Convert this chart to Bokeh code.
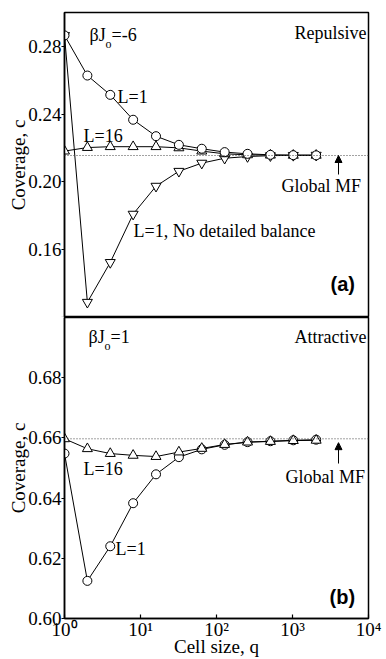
import math
from bokeh.plotting import figure
from bokeh.layouts import column
from bokeh.models import FixedTicker, PrintfTickFormatter, Span, Arrow, NormalHead, Label
from bokeh.embed import file_html
from bokeh.resources import INLINE

# ---- data ----
q = [1, 2, 4, 8, 16, 32, 64, 128, 256, 512, 1024, 2048]

# (a) Repulsive, beta*J0 = -6
a_L1 = [0.2865, 0.2628, 0.2514, 0.2367, 0.2270, 0.2219, 0.2196, 0.2176, 0.2166, 0.2160, 0.2158, 0.2157]
a_L16 = [0.2182, 0.2203, 0.2208, 0.2208, 0.2208, 0.2201, 0.2182, 0.2166, 0.2160, 0.2158, 0.2157, 0.2157]
a_noDB = [0.2865, 0.1290, 0.1525, 0.1810, 0.1975, 0.2063, 0.2111, 0.2140, 0.2150, 0.2155, 0.2157, 0.2158]
a_global = 0.2156

# (b) Attractive, beta*J0 = 1
b_L1 = [0.6548, 0.6125, 0.6240, 0.6383, 0.6479, 0.6536, 0.6562, 0.6577, 0.6586, 0.6589, 0.6592, 0.6594]
b_L16 = [0.6597, 0.6564, 0.6548, 0.6542, 0.6538, 0.6553, 0.6565, 0.6578, 0.6586, 0.6588, 0.6591, 0.6592]
b_global = 0.6597

a_yticks = [0.16, 0.20, 0.24, 0.28]
a_yminor = [0.12]
b_yticks = [0.60, 0.62, 0.64, 0.66, 0.68]
x_ticks = [1, 10, 100, 1000, 10000]
x_labels = ["10\u2070", "10\u00b9", "10\u00b2", "10\u00b3", "10\u2074"]

SERIF = "Liberation Serif"
FS = "19px"
AFS = "18px"

# pixel -> data helpers for annotation placement
def X(px):
    return 10 ** ((px - 64) / 76.0)

def YA(py):
    return 0.30 - (py - 12) / 305.0 * 0.18

def YB(py):
    return 0.70 - (py - 317) / 303.0 * 0.10


def base_fig(height, yr, top, bottom):
    p = figure(width=386, height=height, x_axis_type="log", x_range=(1, 10000), y_range=yr,
               output_backend="svg", toolbar_location=None,
               min_border_left=64, min_border_right=18, min_border_top=top, min_border_bottom=bottom)
    p.xgrid.visible = False
    p.ygrid.visible = False
    p.outline_line_color = "black"
    p.outline_line_width = 1.5
    p.outline_line_alpha = 1
    p.background_fill_color = "white"
    p.border_fill_color = "white"
    ya = p.yaxis[0]
    ya.axis_line_width = 1.5
    ya.major_tick_out = 3
    ya.major_tick_in = 0
    ya.minor_tick_out = 3
    ya.minor_tick_in = 0
    ya.major_tick_line_width = 1.2
    ya.minor_tick_line_width = 1.2
    ya.major_label_standoff = 0
    ya.major_label_text_font = SERIF
    ya.major_label_text_font_size = FS
    ya.major_label_text_color = "black"
    ya.formatter = PrintfTickFormatter(format="%.2f")
    ya.axis_label = "Coverage, c"
    ya.axis_label_text_font = SERIF
    ya.axis_label_text_font_size = FS
    ya.axis_label_text_font_style = "normal"
    ya.axis_label_text_color = "black"
    ya.axis_label_standoff = -4
    return p


def series(p, ys, marker, size):
    p.line(q, ys, line_color="black", line_width=1)
    p.scatter(q, ys, marker=marker, size=size, line_color="black", line_width=1, fill_color="white")


def label(p, x, y, text, align="left", size=AFS, font=SERIF, style="normal"):
    p.add_layout(Label(x=x, y=y, text=text, text_align=align, text_baseline="middle",
                       text_font=font, text_font_size=size, text_font_style=style,
                       text_color="black"))


# ---- panel (a) ----
p1 = base_fig(317, (0.12, 0.30), 12, 0)
p1.xaxis.visible = False
p1.yaxis[0].ticker = FixedTicker(ticks=a_yticks, minor_ticks=a_yminor)
p1.add_layout(Span(location=a_global, dimension="width", line_color="#444444",
                   line_dash="1 2", line_width=1))
series(p1, a_noDB, "inverted_triangle", 10)
series(p1, a_L16, "triangle", 10)
series(p1, a_L1, "circle", 9)
p1.add_layout(Arrow(end=NormalHead(size=7, fill_color="black", line_color="black"),
                    x_start=X(338), y_start=YA(174), x_end=X(338), y_end=YA(155),
                    line_color="black", line_width=1))
label(p1, X(89), YA(34), "\u03b2J")
label(p1, X(105), YA(43), "o", size="12px")
label(p1, X(111), YA(34), "=-6")
label(p1, X(366), YA(32), "Repulsive", align="right")
label(p1, X(117), YA(96), "L=1")
label(p1, X(83), YA(135), "L=16")
label(p1, X(133), YA(230), "L=1, No detailed balance")
label(p1, X(281), YA(185), "Global MF")
label(p1, X(330), YA(283), "(a)", size="20px", font="Liberation Sans", style="bold")

# ---- panel (b) ----
p2 = base_fig(342, (0.60, 0.70), 0, 39)
p2.yaxis[0].ticker = FixedTicker(ticks=b_yticks)
xa = p2.xaxis[0]
xa.ticker = FixedTicker(ticks=x_ticks)
xa.major_label_overrides = {t: l for t, l in zip(x_ticks, x_labels)}
xa.axis_line_width = 1.5
xa.major_tick_in = 4
xa.major_tick_out = 0
xa.major_tick_line_width = 1.2
xa.minor_tick_line_color = None
xa.major_label_standoff = 0
xa.major_label_text_font = SERIF
xa.major_label_text_font_size = FS
xa.major_label_text_color = "black"
xa.axis_label = "Cell size, q"
xa.axis_label_text_font = SERIF
xa.axis_label_text_font_size = FS
xa.axis_label_text_font_style = "normal"
xa.axis_label_text_color = "black"
xa.axis_label_standoff = -7

p2.add_layout(Span(location=b_global, dimension="width", line_color="#444444",
                   line_dash="1 2", line_width=1))
series(p2, b_L1, "circle", 9)
series(p2, b_L16, "triangle", 10)
p2.add_layout(Arrow(end=NormalHead(size=7, fill_color="black", line_color="black"),
                    x_start=X(338), y_start=YB(464), x_end=X(338), y_end=YB(443),
                    line_color="black", line_width=1))
label(p2, X(88), YB(337), "\u03b2J")
label(p2, X(104), YB(346), "o", size="12px")
label(p2, X(110), YB(337), "=1")
label(p2, X(366), YB(337), "Attractive", align="right")
label(p2, X(83), YB(470), "L=16")
label(p2, X(115), YB(550), "L=1")
label(p2, X(285), YB(478), "Global MF")
label(p2, X(329), YB(598), "(b)", size="20px", font="Liberation Sans", style="bold")

layout = column(p1, p2, spacing=0)
open("out.html", "w").write(file_html(layout, INLINE))
